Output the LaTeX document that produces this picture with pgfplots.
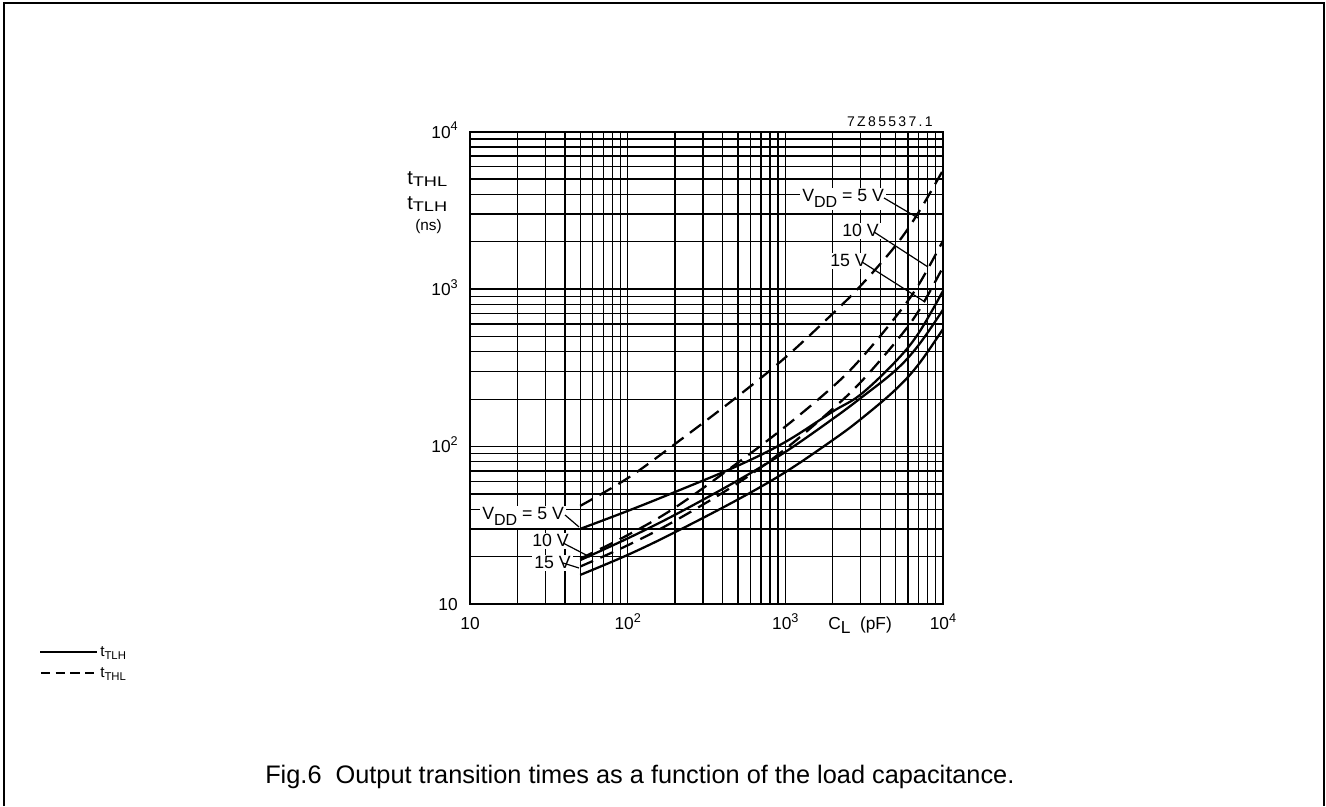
\documentclass[border=0pt]{standalone}
\usepackage{fontspec}
\setmainfont{Liberation Sans}
\usepackage{graphicx}
\usepackage{pgfplots}
\usepackage{pgfplotstable}
\pgfplotsset{compat=1.18}

\newcommand{\lab}{\fontsize{13.3}{15}\selectfont}
\newcommand{\vdd}{V\raisebox{-4.3pt}{\fontsize{12}{12}\selectfont DD}}
\newcommand{\ex}[1]{10\raisebox{5.5pt}{\fontsize{9.5}{10}\selectfont #1}}

% t_THL, dashed
\pgfplotstableread{
x y
50 42
100 63
200 104
500 209
1000 368
2000 700
3000 1050
5000 1889
7000 3075
10000 5700
}\thlfive
\pgfplotstableread{
x y
50 19.4
100 27.4
200 41
500 79
1000 134
2000 240
3000 360
5000 665
7000 1065
10000 2030
}\thlten
\pgfplotstableread{
x y
50 17.3
100 23.6
200 33.8
500 58.6
1000 96.6
2000 174
3000 256
5000 461
7000 726
10000 1380
}\thlfifteen
% t_TLH, solid
\pgfplotstableread{
x y
50 30
100 39
200 51.5
500 75.6
1000 107
2000 167
3000 214
5000 347
7000 525
10000 975
}\tlhfive
\pgfplotstableread{
x y
50 19
100 26.1
200 36.9
500 61
1000 92.5
2000 150
3000 203
5000 305
7000 441
10000 740
}\tlhten
\pgfplotstableread{
x y
50 15.3
100 20.5
200 28.6
500 46.1
1000 68.8
2000 110
3000 149
5000 230
7000 333
10000 558
}\tlhfifteen

\begin{document}
\begin{tikzpicture}
\useasboundingbox (0,0) rectangle (994.5pt,604.5pt);
\begin{axis}[
  at={(352.5pt,151.5pt)}, anchor=south west,
  scale only axis, width=354.75pt, height=354.2pt,
  xmode=log, ymode=log,
  xmin=10, xmax=10000, ymin=10, ymax=10000,
  xtick={10,100,1000,10000}, ytick={10,100,1000,10000},
  minor xtick={20,30,40,50,60,70,80,90,200,300,400,500,600,700,800,900,2000,3000,4000,5000,6000,7000,8000,9000},
  minor ytick={20,30,40,50,60,70,80,90,200,300,400,500,600,700,800,900,2000,3000,4000,5000,6000,7000,8000,9000},
  xticklabels={10,\ex{2},\ex{3},\ex{4}},
  yticklabels={10,\ex{2},\ex{3},\ex{4}},
  major tick length=0pt, minor tick length=0pt,
  grid=both,
  major grid style={draw=black, line width=1.1pt},
  minor grid style={draw=black, line width=1pt},
  axis line style={line width=1.3pt},
  tick label style={font=\fontsize{13}{14}\selectfont, inner sep=0pt},
  xticklabel style={anchor=base, yshift=-19.5pt},
  yticklabel style={anchor=base east, xshift=-9pt, yshift=-4.8pt},
  tlh/.style={black, line width=1.7pt, smooth, tension=0.6},
  thl/.style={black, line width=1.7pt, smooth, tension=0.6, dash pattern=on 10.5pt off 6pt},
]
\addplot[thl] table {\thlfive};
\addplot[thl] table {\thlten};
\addplot[thl] table {\thlfifteen};
\addplot[tlh] table {\tlhfive};
\addplot[tlh] table {\tlhten};
\addplot[tlh] table {\tlhfifteen};
\end{axis}

\begin{scope}[x=0.75pt, y=-0.75pt, yshift=604.5pt]
% frame
\draw[line width=1.5pt] (4,806) -- (4,3) -- (1324,3) -- (1324,806);
% drawing number
\node[anchor=base east, inner sep=0pt, font=\fontsize{10.5}{12}\selectfont] at (933,127) {7\,Z\,8\,5\,5\,3\,7\,.\,1};
% y axis label
\node[anchor=base west, inner sep=0pt] at (407,185) {\fontsize{15}{16}\selectfont t\raisebox{-1pt}{\scalebox{1.3}[1]{\fontsize{10.5}{12}\selectfont THL}}};
\node[anchor=base west, inner sep=0pt] at (407,210) {\fontsize{15}{16}\selectfont t\raisebox{-1pt}{\scalebox{1.3}[1]{\fontsize{10.5}{12}\selectfont TLH}}};
\node[anchor=base west, inner sep=0pt, font=\fontsize{11.5}{12}\selectfont] at (415,231) {(ns)};
% x axis label
\node[anchor=base west, inner sep=0pt, font=\fontsize{13}{14}\selectfont] at (828,630) {C\raisebox{-3pt}{L}\ \ (pF)};
% right labels
\node[fill=white, inner sep=1.5pt, anchor=base west, font=\lab] at (800,202) {\vdd\ = 5 V};
\draw[line width=0.9pt] (884,198) -- (918,218);
\node[fill=white, inner sep=1.5pt, anchor=base west, font=\lab] at (840,237) {10 V};
\draw[line width=0.9pt] (874,232) -- (928,267);
\node[fill=white, inner sep=1.5pt, anchor=base west, font=\lab] at (828,267) {15 V};
\draw[line width=0.9pt] (862,262) -- (925,302);
% left labels
\node[fill=white, inner sep=1.5pt, anchor=base west, font=\lab] at (480,520) {\vdd\ = 5 V};
\draw[line width=0.9pt] (565,515) -- (579,527);
\node[fill=white, inner sep=1.5pt, anchor=base west, font=\lab] at (530,547) {10 V};
\draw[line width=0.9pt] (563,543) -- (590,557);
\node[fill=white, inner sep=1.5pt, anchor=base west, font=\lab] at (532,569) {15 V};
\draw[line width=0.9pt] (563,563) -- (579,568);
% legend
\draw[line width=0.8pt] (40,652) -- (97,652);
\node[anchor=base west, inner sep=0pt] at (100,657) {\fontsize{11.5}{12}\selectfont t\raisebox{-2pt}{\fontsize{8.5}{9}\selectfont TLH}};
\draw[line width=0.8pt, dash pattern=on 7pt off 4pt] (41,673) -- (95,673);
\node[anchor=base west, inner sep=0pt] at (100,678) {\fontsize{11.5}{12}\selectfont t\raisebox{-2pt}{\fontsize{8.5}{9}\selectfont THL}};
% caption
\node[anchor=base west, inner sep=0pt, font=\fontsize{19}{22}\selectfont] at (265,783) {Fig.6\ \ Output transition times as a function of the load capacitance.};
\end{scope}
\end{tikzpicture}
\end{document}
